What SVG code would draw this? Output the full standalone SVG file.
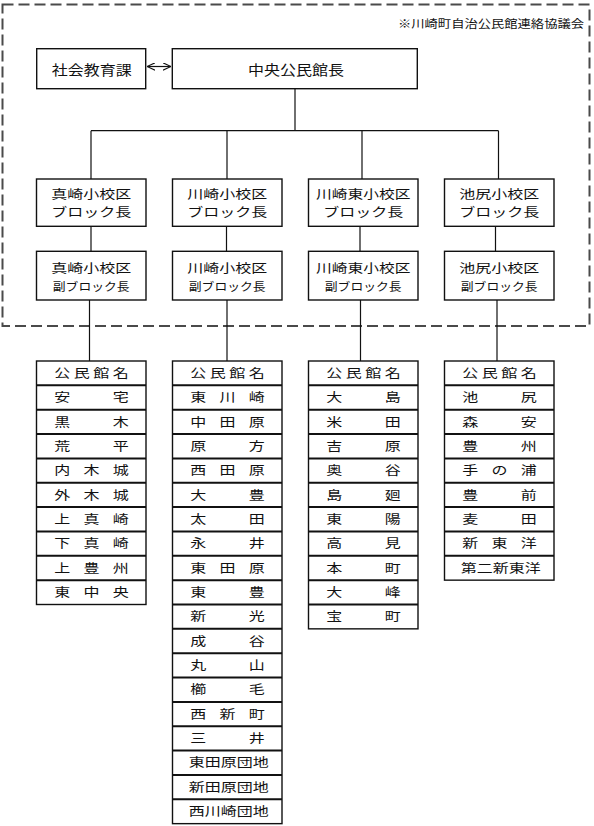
<svg xmlns="http://www.w3.org/2000/svg" width="594" height="826" viewBox="0 0 594 826">
<style>
.bg{fill:#fff}
.frame{fill:none;stroke:#4a4a4a;stroke-width:2;stroke-dasharray:11 5}
.box{fill:#fff;stroke:#111;stroke-width:1.4}
.conn{fill:none;stroke:#111;stroke-width:1.2}
.sep{stroke:#111;stroke-width:2}
.t{font-family:"Noto Sans CJK JP","Noto Sans CJK SC",sans-serif;fill:#111}
.fb{font-size:12.4px}
.fs{font-size:11.8px}
.ft{font-size:12.5px}
.fh{font-size:13.5px}
.m{text-anchor:middle}
</style>
<defs>
<marker id="ah" viewBox="0 0 8 8" refX="8" refY="4" markerWidth="8" markerHeight="8" markerUnits="userSpaceOnUse" orient="auto-start-reverse">
<path d="M0,0.3 L8,4 L0,7.7" fill="none" stroke="#111" stroke-width="1.1"/>
</marker>
</defs>
<rect class="bg" x="0" y="0" width="594" height="826"/>
<g id="council-frame">
<rect class="frame" x="2.5" y="4.5" width="587" height="321.5"/>
<text class="t" style="font-size:11px" transform="translate(584 0) scale(1.21 1)" x="0" y="28.5" text-anchor="end">※川崎町自治公民館連絡協議会</text>
</g>
<g id="connectors">
<line class="conn" x1="147" y1="66.5" x2="171" y2="66.5" marker-start="url(#ah)" marker-end="url(#ah)"/>
<path class="conn" d="M295,88.7 V130.7 M91,130.7 H498.5 M91,130.7 V179 M227,130.7 V179 M362,130.7 V179 M498.5,130.7 V179"/>
<path class="conn" d="M91,226.3 V251.3 M226.5,226.3 V251.3 M360,226.3 V251.3 M495.5,226.3 V251.3"/>
<path class="conn" d="M89.5,300 V361 M227,300 V361 M360.5,300 V361 M497,300 V361"/>
</g>
<g id="shakai-kyoikuka">
<rect class="box" x="36.7" y="48.7" width="109" height="40"/>
<text class="t fh m" transform="translate(91.8 0) scale(1.185 1)" x="0" y="74.8">社会教育課</text>
</g>
<g id="chuo-kominkancho">
<rect class="box" x="172.3" y="48.7" width="245" height="40"/>
<text class="t fh m" transform="translate(296 0) scale(1.185 1)" x="0" y="74.8">中央公民館長</text>
</g>
<g id="block-masaki">
<rect class="box" x="36.5" y="179" width="109.5" height="47.3"/>
<text class="t fb m" transform="translate(91.2 0) scale(1.29 1)" x="0" y="198.8">真崎小校区</text>
<text class="t fb m" transform="translate(91.2 0) scale(1.29 1)" x="0" y="217.1">ブロック長</text>
</g>
<g id="block-kawasaki">
<rect class="box" x="172.5" y="179" width="109.5" height="47.3"/>
<text class="t fb m" transform="translate(227.2 0) scale(1.29 1)" x="0" y="198.8">川崎小校区</text>
<text class="t fb m" transform="translate(227.2 0) scale(1.29 1)" x="0" y="217.1">ブロック長</text>
</g>
<g id="block-kawasakihigashi">
<rect class="box" x="308.5" y="179" width="109.5" height="47.3"/>
<text class="t fb m" transform="translate(363.2 0) scale(1.27 1)" x="0" y="198.8">川崎東小校区</text>
<text class="t fb m" transform="translate(363.2 0) scale(1.29 1)" x="0" y="217.1">ブロック長</text>
</g>
<g id="block-ikejiri">
<rect class="box" x="444.5" y="179" width="109.5" height="47.3"/>
<text class="t fb m" transform="translate(499.2 0) scale(1.29 1)" x="0" y="198.8">池尻小校区</text>
<text class="t fb m" transform="translate(499.2 0) scale(1.29 1)" x="0" y="217.1">ブロック長</text>
</g>
<g id="subblock-masaki">
<rect class="box" x="36.5" y="251.3" width="109.5" height="48.7"/>
<text class="t fb m" transform="translate(91.2 0) scale(1.29 1)" x="0" y="273">真崎小校区</text>
<text class="t fs m" transform="translate(91.2 0) scale(1.085 1)" x="0" y="290.7">副ブロック長</text>
</g>
<g id="subblock-kawasaki">
<rect class="box" x="172.5" y="251.3" width="109.5" height="48.7"/>
<text class="t fb m" transform="translate(227.2 0) scale(1.29 1)" x="0" y="273">川崎小校区</text>
<text class="t fs m" transform="translate(227.2 0) scale(1.085 1)" x="0" y="290.7">副ブロック長</text>
</g>
<g id="subblock-kawasakihigashi">
<rect class="box" x="308.5" y="251.3" width="109.5" height="48.7"/>
<text class="t fb m" transform="translate(363.2 0) scale(1.27 1)" x="0" y="273">川崎東小校区</text>
<text class="t fs m" transform="translate(363.2 0) scale(1.085 1)" x="0" y="290.7">副ブロック長</text>
</g>
<g id="subblock-ikejiri">
<rect class="box" x="444.5" y="251.3" width="109.5" height="48.7"/>
<text class="t fb m" transform="translate(499.2 0) scale(1.29 1)" x="0" y="273">池尻小校区</text>
<text class="t fs m" transform="translate(499.2 0) scale(1.085 1)" x="0" y="290.7">副ブロック長</text>
</g>
<g id="table-masaki">
<rect class="box" x="36.5" y="361" width="109.5" height="243.5"/>
<path class="sep" d="M36.5,385.35 H146 M36.5,409.7 H146 M36.5,434.05 H146 M36.5,458.4 H146 M36.5,482.75 H146 M36.5,507.1 H146 M36.5,531.45 H146 M36.5,555.8 H146 M36.5,580.15 H146"/>
<g class="t ft" transform="scale(1.28 1)">
<text x="42.42" y="377.9" textLength="58.2" lengthAdjust="spacing">公民館名</text>
<text x="42.42" y="402.25" textLength="58.2" lengthAdjust="spacing">安宅</text>
<text x="42.42" y="426.6" textLength="58.2" lengthAdjust="spacing">黒木</text>
<text x="42.42" y="450.95" textLength="58.2" lengthAdjust="spacing">荒平</text>
<text x="42.42" y="475.3" textLength="58.2" lengthAdjust="spacing">内木城</text>
<text x="42.42" y="499.65" textLength="58.2" lengthAdjust="spacing">外木城</text>
<text x="42.42" y="524" textLength="58.2" lengthAdjust="spacing">上真崎</text>
<text x="42.42" y="548.35" textLength="58.2" lengthAdjust="spacing">下真崎</text>
<text x="42.42" y="572.7" textLength="58.2" lengthAdjust="spacing">上豊州</text>
<text x="42.42" y="597.05" textLength="58.2" lengthAdjust="spacing">東中央</text>
</g>
</g>
<g id="table-kawasaki">
<rect class="box" x="172.5" y="361" width="109.5" height="462.65"/>
<path class="sep" d="M172.5,385.35 H282 M172.5,409.7 H282 M172.5,434.05 H282 M172.5,458.4 H282 M172.5,482.75 H282 M172.5,507.1 H282 M172.5,531.45 H282 M172.5,555.8 H282 M172.5,580.15 H282 M172.5,604.5 H282 M172.5,628.85 H282 M172.5,653.2 H282 M172.5,677.55 H282 M172.5,701.9 H282 M172.5,726.25 H282 M172.5,750.6 H282 M172.5,774.95 H282 M172.5,799.3 H282"/>
<g class="t ft" transform="scale(1.28 1)">
<text x="148.67" y="377.9" textLength="58.2" lengthAdjust="spacing">公民館名</text>
<text x="148.67" y="402.25" textLength="58.2" lengthAdjust="spacing">東川崎</text>
<text x="148.67" y="426.6" textLength="58.2" lengthAdjust="spacing">中田原</text>
<text x="148.67" y="450.95" textLength="58.2" lengthAdjust="spacing">原方</text>
<text x="148.67" y="475.3" textLength="58.2" lengthAdjust="spacing">西田原</text>
<text x="148.67" y="499.65" textLength="58.2" lengthAdjust="spacing">大豊</text>
<text x="148.67" y="524" textLength="58.2" lengthAdjust="spacing">太田</text>
<text x="148.67" y="548.35" textLength="58.2" lengthAdjust="spacing">永井</text>
<text x="148.67" y="572.7" textLength="58.2" lengthAdjust="spacing">東田原</text>
<text x="148.67" y="597.05" textLength="58.2" lengthAdjust="spacing">東豊</text>
<text x="148.67" y="621.4" textLength="58.2" lengthAdjust="spacing">新光</text>
<text x="148.67" y="645.75" textLength="58.2" lengthAdjust="spacing">成谷</text>
<text x="148.67" y="670.1" textLength="58.2" lengthAdjust="spacing">丸山</text>
<text x="148.67" y="694.45" textLength="58.2" lengthAdjust="spacing">櫛毛</text>
<text x="148.67" y="718.8" textLength="58.2" lengthAdjust="spacing">西新町</text>
<text x="148.67" y="743.15" textLength="58.2" lengthAdjust="spacing">三井</text>
<text x="147.42" y="767.5" textLength="62.5" lengthAdjust="spacing">東田原団地</text>
<text x="147.42" y="791.85" textLength="62.5" lengthAdjust="spacing">新田原団地</text>
<text x="147.42" y="816.2" textLength="62.5" lengthAdjust="spacing">西川崎団地</text>
</g>
</g>
<g id="table-kawasakihigashi">
<rect class="box" x="308.5" y="361" width="109.5" height="267.85"/>
<path class="sep" d="M308.5,385.35 H418 M308.5,409.7 H418 M308.5,434.05 H418 M308.5,458.4 H418 M308.5,482.75 H418 M308.5,507.1 H418 M308.5,531.45 H418 M308.5,555.8 H418 M308.5,580.15 H418 M308.5,604.5 H418"/>
<g class="t ft" transform="scale(1.28 1)">
<text x="254.92" y="377.9" textLength="58.2" lengthAdjust="spacing">公民館名</text>
<text x="254.92" y="402.25" textLength="58.2" lengthAdjust="spacing">大島</text>
<text x="254.92" y="426.6" textLength="58.2" lengthAdjust="spacing">米田</text>
<text x="254.92" y="450.95" textLength="58.2" lengthAdjust="spacing">吉原</text>
<text x="254.92" y="475.3" textLength="58.2" lengthAdjust="spacing">奥谷</text>
<text x="254.92" y="499.65" textLength="58.2" lengthAdjust="spacing">島廻</text>
<text x="254.92" y="524" textLength="58.2" lengthAdjust="spacing">東陽</text>
<text x="254.92" y="548.35" textLength="58.2" lengthAdjust="spacing">高見</text>
<text x="254.92" y="572.7" textLength="58.2" lengthAdjust="spacing">本町</text>
<text x="254.92" y="597.05" textLength="58.2" lengthAdjust="spacing">大峰</text>
<text x="254.92" y="621.4" textLength="58.2" lengthAdjust="spacing">宝町</text>
</g>
</g>
<g id="table-ikejiri">
<rect class="box" x="444.5" y="361" width="109.5" height="219.15"/>
<path class="sep" d="M444.5,385.35 H554 M444.5,409.7 H554 M444.5,434.05 H554 M444.5,458.4 H554 M444.5,482.75 H554 M444.5,507.1 H554 M444.5,531.45 H554 M444.5,555.8 H554"/>
<g class="t ft" transform="scale(1.28 1)">
<text x="361.17" y="377.9" textLength="58.2" lengthAdjust="spacing">公民館名</text>
<text x="361.17" y="402.25" textLength="58.2" lengthAdjust="spacing">池尻</text>
<text x="361.17" y="426.6" textLength="58.2" lengthAdjust="spacing">森安</text>
<text x="361.17" y="450.95" textLength="58.2" lengthAdjust="spacing">豊州</text>
<text x="361.17" y="475.3" textLength="58.2" lengthAdjust="spacing">手の浦</text>
<text x="361.17" y="499.65" textLength="58.2" lengthAdjust="spacing">豊前</text>
<text x="361.17" y="524" textLength="58.2" lengthAdjust="spacing">麦田</text>
<text x="361.17" y="548.35" textLength="58.2" lengthAdjust="spacing">新東洋</text>
<text x="359.92" y="572.7" textLength="62.5" lengthAdjust="spacing">第二新東洋</text>
</g>
</g>
</svg>
